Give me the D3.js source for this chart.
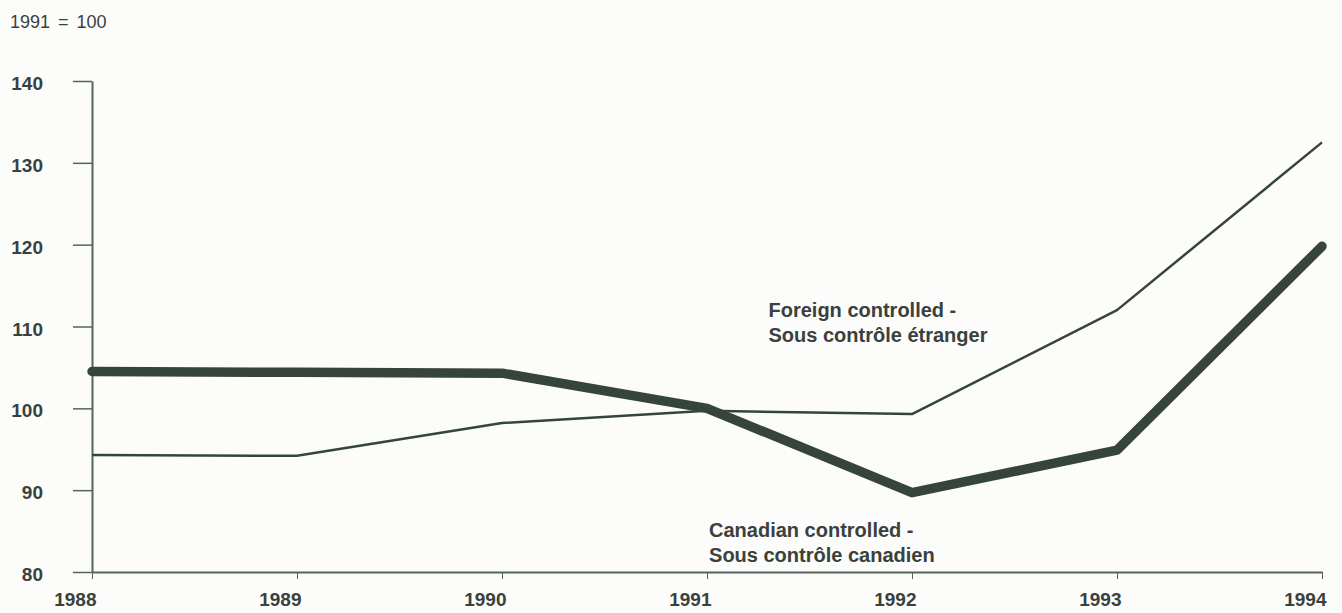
<!DOCTYPE html>
<html>
<head>
<meta charset="utf-8">
<script src="https://cdn.jsdelivr.net/npm/d3@7"></script>
<style>
  body { margin: 0; background: #fcfcfa; }
  text { font-family: "Liberation Sans", Arial, sans-serif; fill: #3a413d; }
</style>
</head>
<body>
<script>
var w = 1342;
var h = 613;

var years = [1988, 1989, 1990, 1991, 1992, 1993, 1994];
var foreign = [94.3, 94.2, 98.2, 99.7, 99.3, 112.0, 132.5];
var canadian = [104.5, 104.4, 104.3, 100.0, 89.7, 94.9, 119.8];
var yTicks = [80, 90, 100, 110, 120, 130, 140];
var lineColor = '#36453c';

// svg on the body
var svg = d3.select('body')
   .append('svg')
   .attr('width', w)
   .attr('height', h);

var x = d3.scaleLinear().domain([1988, 1994]).range([92, 1322]);
var y = d3.scaleLinear().domain([80, 140]).range([572, 81]);

// unit note
svg.append('text')
   .attr('x', 10)
   .attr('y', 28)
   .attr('font-size', '18px')
   .attr('word-spacing', '3px')
   .text('1991 = 100');

// y axis, ticks to the left
var yAxis = svg.append('g')
   .attr('transform', 'translate(92,0)')
   .call(d3.axisLeft(y).tickValues(yTicks).tickSize(19).tickPadding(30).tickSizeOuter(0));
yAxis.select('.domain').attr('stroke', '#56655b').attr('stroke-width', 2);
yAxis.selectAll('.tick line').attr('stroke', '#56655b').attr('stroke-width', 1.5);
yAxis.selectAll('.tick text')
   .attr('font-size', '19px')
   .attr('font-weight', 'bold')
   .attr('dy', '0.45em');

// x axis, small ticks down
var xAxis = svg.append('g')
   .attr('transform', 'translate(0,572)')
   .call(d3.axisBottom(x).tickValues(years).tickFormat(d3.format('d')).tickSize(7).tickSizeOuter(0));
xAxis.select('.domain').attr('stroke', '#56655b').attr('stroke-width', 2);
xAxis.selectAll('.tick line').attr('stroke', '#56655b').attr('stroke-width', 1);
xAxis.selectAll('.tick text')
   .attr('font-size', '19px')
   .attr('font-weight', 'bold')
   .attr('text-anchor', 'end')
   .attr('x', 4)
   .attr('y', 34)
   .attr('dy', 0);

var line = d3.line()
   .x(function(d, i) { return x(years[i]); })
   .y(function(d) { return y(d); });

// foreign controlled, thin
svg.append('path')
   .datum(foreign)
   .attr('d', line)
   .attr('fill', 'none')
   .attr('stroke', lineColor)
   .attr('stroke-width', 2.5)
   .attr('stroke-linejoin', 'round');

// canadian controlled, thick
svg.append('path')
   .datum(canadian)
   .attr('d', line)
   .attr('fill', 'none')
   .attr('stroke', lineColor)
   .attr('stroke-width', 9.5)
   .attr('stroke-linejoin', 'round')
   .attr('stroke-linecap', 'round');

// series labels
var labels = [
   { lines: ['Foreign controlled -', 'Sous contrôle étranger'], year: 1991.3, value: 111.2 },
   { lines: ['Canadian controlled -', 'Sous contrôle canadien'], year: 1991.01, value: 84.3 }
];
labels.forEach(function(l) {
   var t = svg.append('text')
      .attr('font-size', '20px')
      .attr('font-weight', 'bold');
   l.lines.forEach(function(s, i) {
      t.append('tspan')
         .attr('x', x(l.year))
         .attr('y', y(l.value) + i * 25)
         .text(s);
   });
});
</script>
</body>
</html>
